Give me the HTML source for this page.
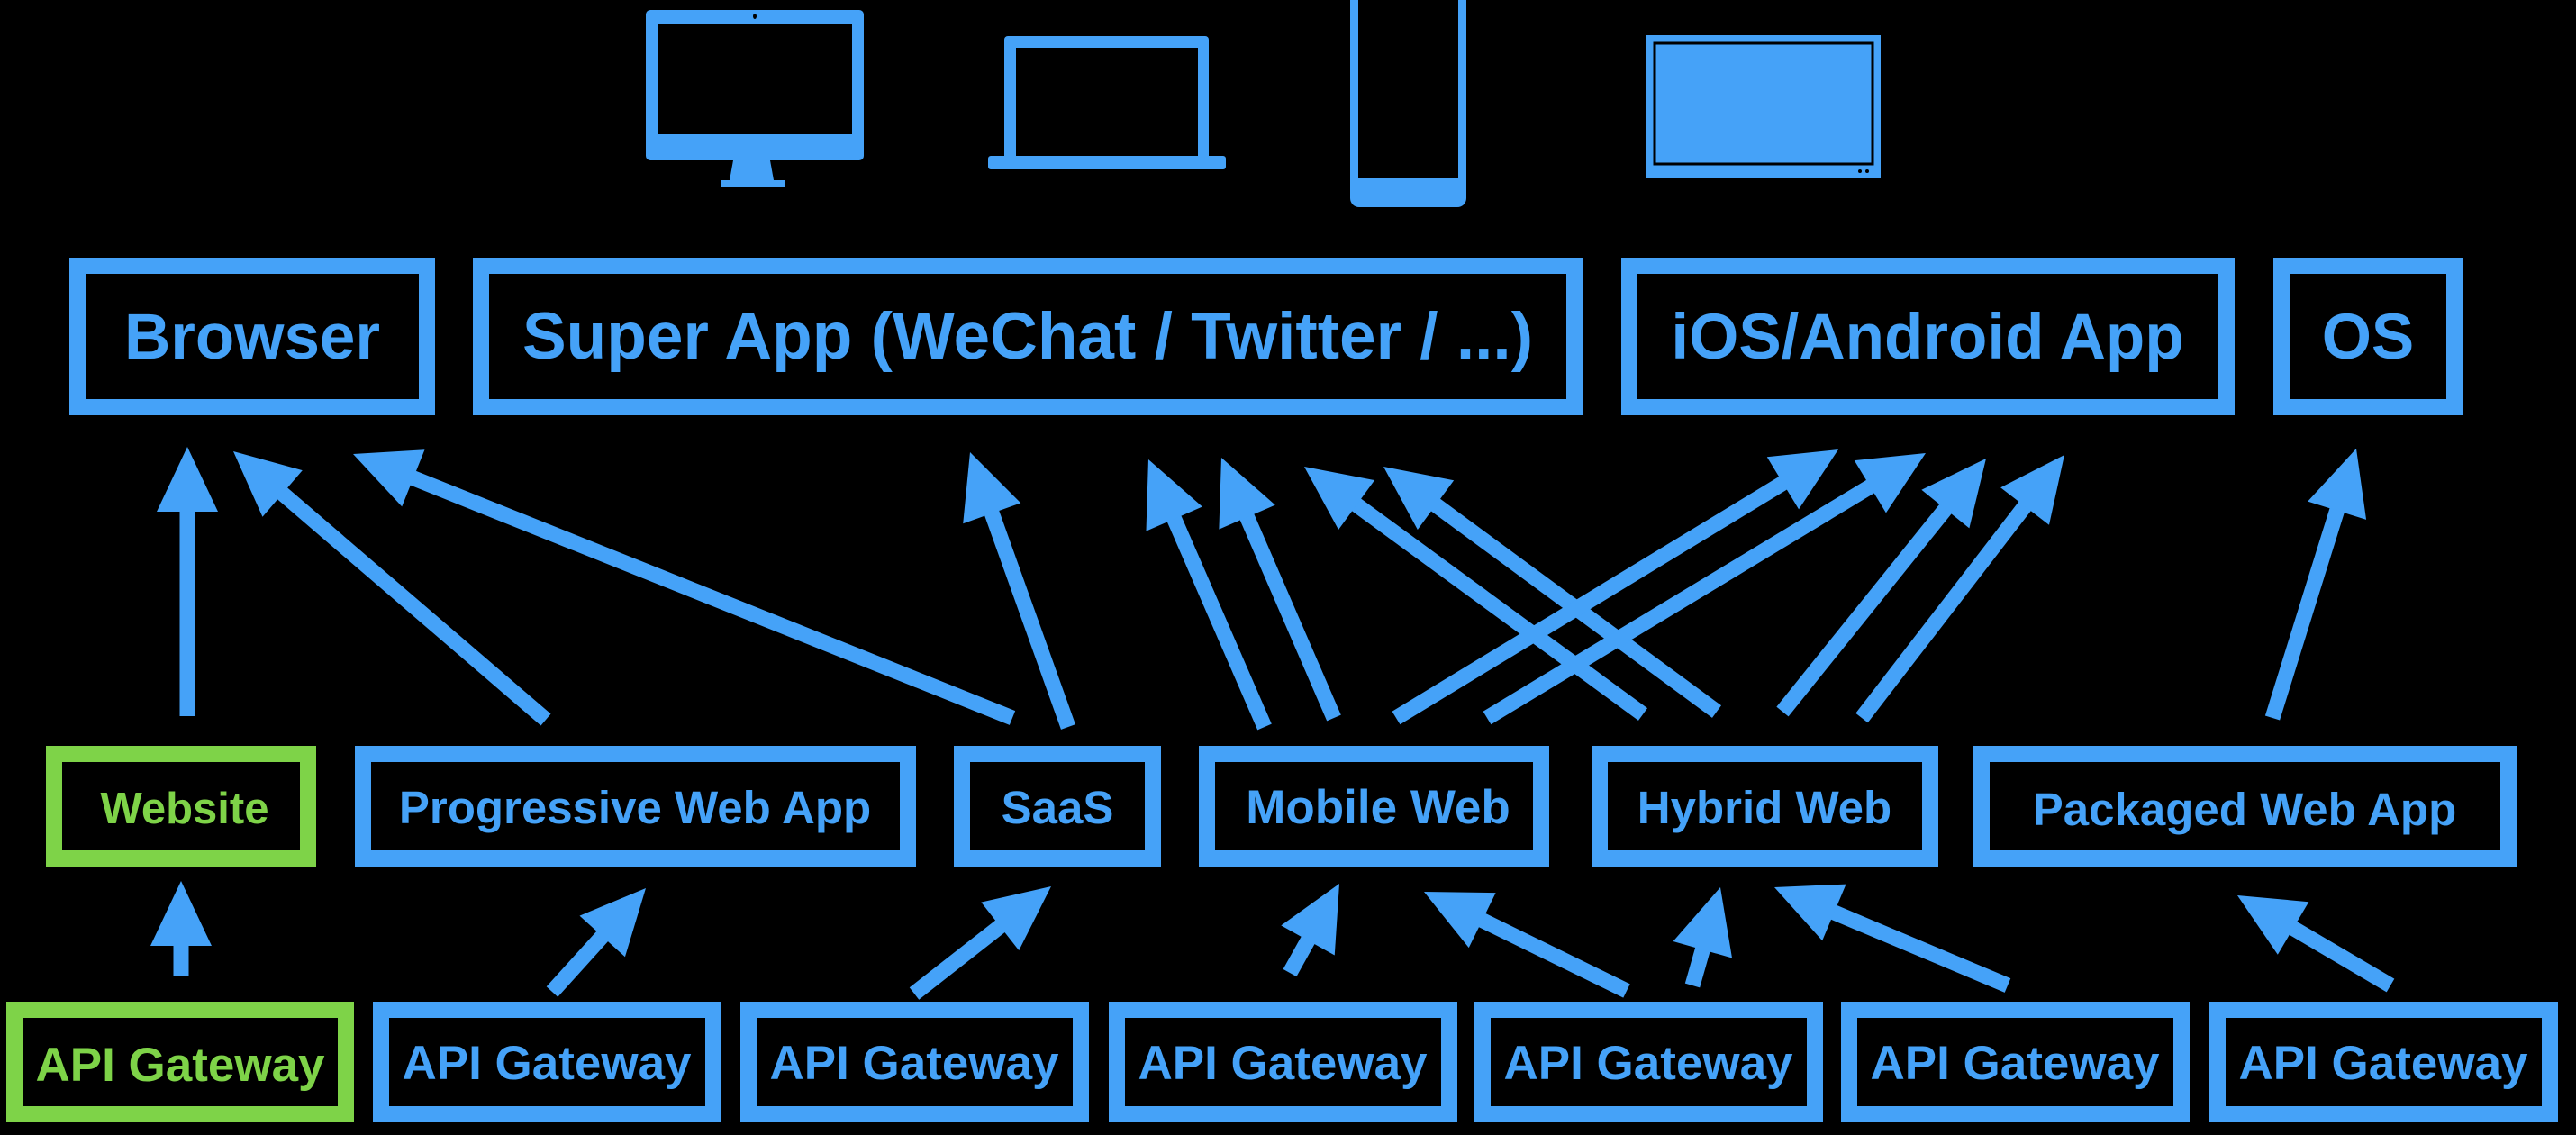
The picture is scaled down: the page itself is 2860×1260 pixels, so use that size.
<!DOCTYPE html>
<html><head><meta charset="utf-8"><style>
html,body{margin:0;padding:0;background:#000;}
svg{display:block;}
text{font-family:"Liberation Sans",Arial,sans-serif;font-weight:bold;}
</style></head><body>
<svg id="s" width="2860" height="1260" viewBox="0 0 2860 1260" xmlns="http://www.w3.org/2000/svg">
<rect width="2860" height="1260" fill="#000"/>
<g fill="#45A2F8">
<rect x="717" y="11" width="242" height="167" rx="5"/>
<rect x="730" y="27" width="216" height="122" fill="#000"/>
<ellipse cx="838" cy="18" rx="2" ry="3" fill="#000"/>
<polygon points="814,178 855,178 859,200 810,200"/>
<rect x="801" y="200" width="70" height="8"/>
<rect x="1115" y="40" width="227" height="138" rx="4"/>
<rect x="1128" y="53" width="202" height="120" fill="#000"/>
<rect x="1097" y="173" width="264" height="15" rx="3"/>
<rect x="1499" y="-20" width="129" height="250" rx="10"/>
<rect x="1508" y="-20" width="111" height="218" fill="#000"/>
<rect x="1828" y="39" width="260" height="159"/>
<rect x="1837" y="48" width="242" height="134" fill="none" stroke="#000" stroke-width="3"/>
<circle cx="2065" cy="190" r="2" fill="#000"/><circle cx="2073" cy="190" r="2" fill="#000"/>
</g>
<g fill="none" stroke="#45A2F8" stroke-width="18">
<rect x="86" y="295" width="388" height="157"/>
<rect x="534" y="295" width="1214" height="157"/>
<rect x="1809" y="295" width="663" height="157"/>
<rect x="2533" y="295" width="192" height="157"/>
<rect x="403" y="837" width="605" height="116"/>
<rect x="1068" y="837" width="212" height="116"/>
<rect x="1340" y="837" width="371" height="116"/>
<rect x="1776" y="837" width="367" height="116"/>
<rect x="2200" y="837" width="585" height="116"/>
<rect x="423" y="1121" width="369" height="116"/>
<rect x="831" y="1121" width="369" height="116"/>
<rect x="1240" y="1121" width="369" height="116"/>
<rect x="1646" y="1121" width="369" height="116"/>
<rect x="2053" y="1121" width="369" height="116"/>
<rect x="2462" y="1121" width="369" height="116"/>
</g>
<g fill="none" stroke="#7ED348" stroke-width="18">
<rect x="60" y="837" width="282" height="116"/>
<rect x="16" y="1121" width="368" height="116"/>
</g>
<g fill="#45A2F8" font-size="71" text-anchor="middle">
<text x="280" y="398">Browser</text>
<text x="1141" y="398" font-size="73">Super App (WeChat / Twitter / ...)</text>
<text x="2140" y="398">iOS/Android App</text>
<text x="2629" y="398">OS</text>
</g>
<g fill="#45A2F8" font-size="51" text-anchor="middle">
<text x="705" y="914">Progressive Web App</text>
<text x="1174" y="914">SaaS</text>
<text x="1530" y="914" font-size="53">Mobile Web</text>
<text x="1959" y="914">Hybrid Web</text>
<text x="2492" y="916">Packaged Web App</text>
</g>
<g fill="#45A2F8" font-size="53" text-anchor="middle">
<text x="607" y="1198">API Gateway</text>
<text x="1015" y="1198">API Gateway</text>
<text x="1424" y="1198">API Gateway</text>
<text x="1830" y="1198">API Gateway</text>
<text x="2237" y="1198">API Gateway</text>
<text x="2646" y="1198">API Gateway</text>
</g>
<g fill="#7ED348" text-anchor="middle">
<text x="205" y="914" font-size="49">Website</text>
<text x="200" y="1200" font-size="53">API Gateway</text>
</g>
<g id="arrows"></g>
</svg>
<script>
var A=[
[208,795,208,496],
[606,799,259,501],
[1124,797,392,504],
[1186,807,1077,502],
[1404,807,1275,510],
[1481,797,1356,508],
[1824,793,1448,518],
[1906,790,1536,518],
[1550,797,2041,499],
[1651,797,2138,503],
[1979,790,2205,509],
[2067,797,2292,505],
[2523,797,2616,498],
[201,1084,201,978],
[613,1101,717,986],
[1015,1103,1167,984],
[1432,1080,1487,981],
[1806,1100,1581,990],
[1879,1094,1910,985],
[2229,1094,1970,985],
[2654,1094,2484,994]
];
var g=document.getElementById('arrows'),h='';
A.forEach(function(a){
 var x1=a[0],y1=a[1],x2=a[2],y2=a[3];
 var dx=x2-x1,dy=y2-y1,L=Math.sqrt(dx*dx+dy*dy),ux=dx/L,uy=dy/L,px=-uy,py=ux;
 var hl=72,hw=34;
 var bx=x2-ux*hl,by=y2-uy*hl;
 var lx=x2-ux*(hl-4),ly=y2-uy*(hl-4);
 h+='<line x1="'+x1+'" y1="'+y1+'" x2="'+lx+'" y2="'+ly+'" stroke="#45A2F8" stroke-width="17"/>';
 h+='<polygon fill="#45A2F8" points="'+x2+','+y2+' '+(bx+px*hw)+','+(by+py*hw)+' '+(bx-px*hw)+','+(by-py*hw)+'"/>';
});
g.innerHTML=h;
</script>
</body></html>
